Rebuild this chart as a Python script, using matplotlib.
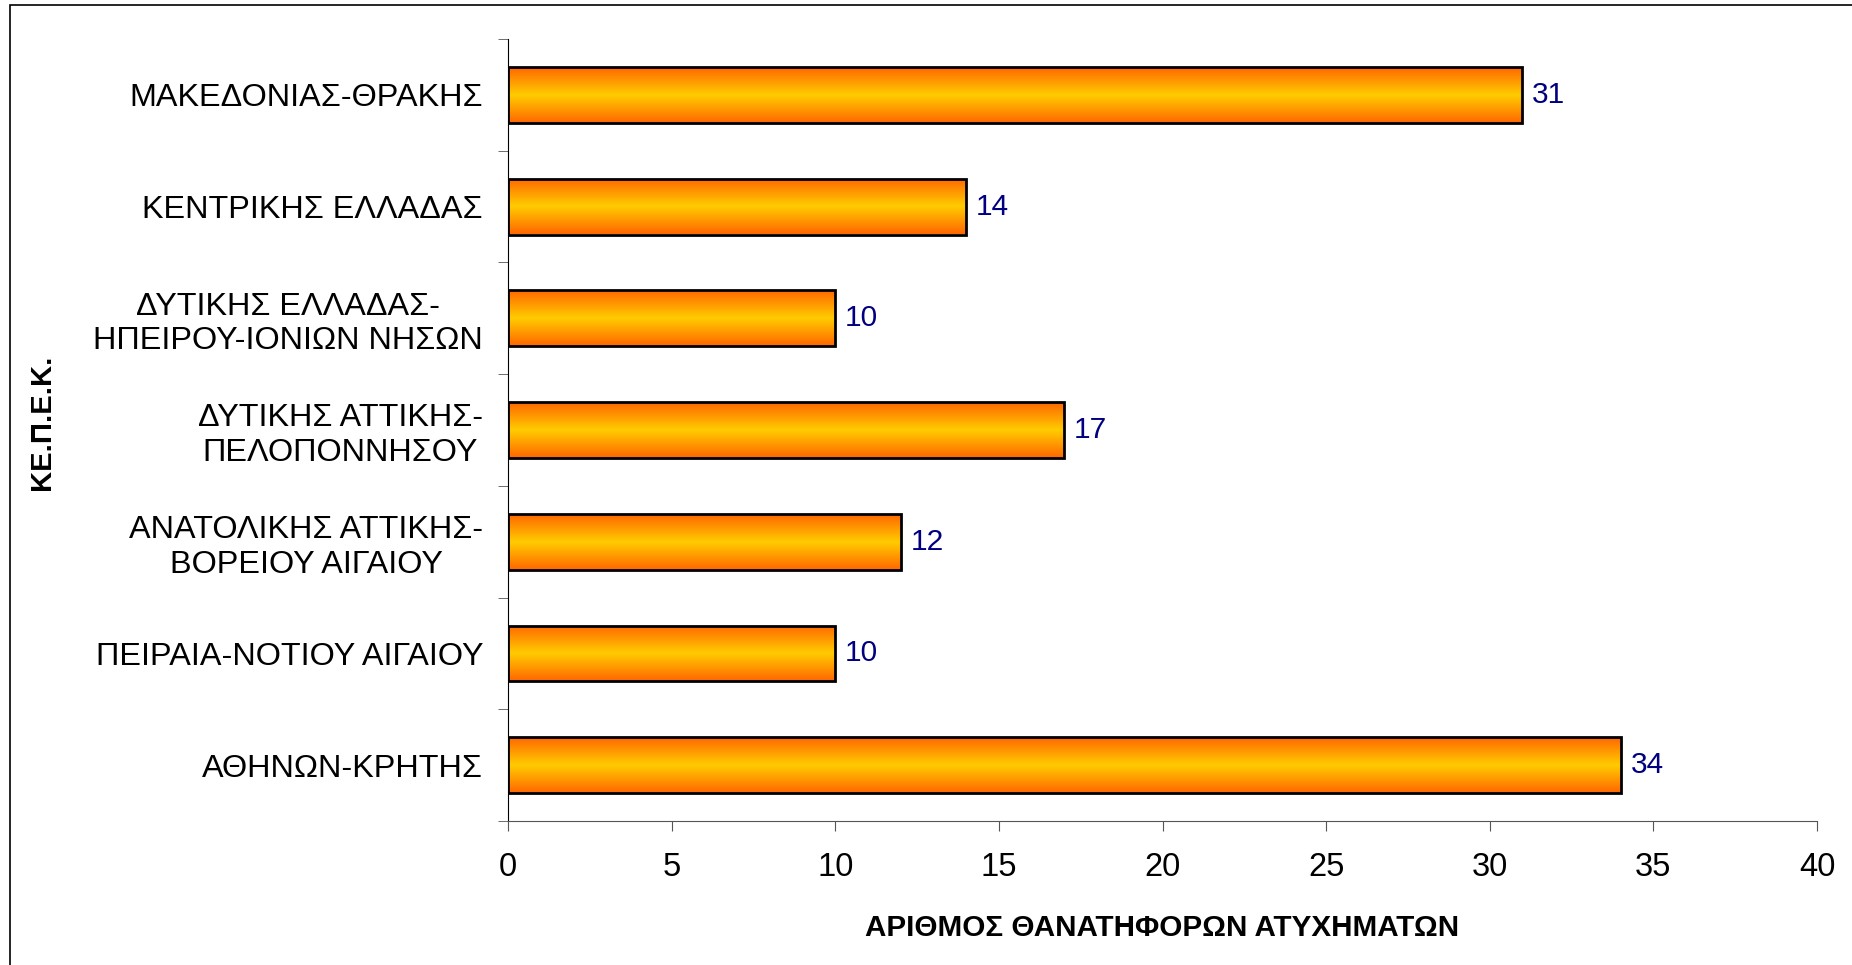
import numpy as np
import matplotlib.pyplot as plt
from matplotlib.colors import LinearSegmentedColormap
from matplotlib.patches import Rectangle

plt.rcParams['font.family'] = ['Liberation Sans', 'DejaVu Sans']

# data (bottom to top)
regions = ['ΑΘΗΝΩΝ-ΚΡΗΤΗΣ',
           'ΠΕΙΡΑΙΑ-ΝΟΤΙΟΥ ΑΙΓΑΙΟΥ',
           'ΑΝΑΤΟΛΙΚΗΣ ΑΤΤΙΚΗΣ-\nΒΟΡΕΙΟΥ ΑΙΓΑΙΟΥ',
           'ΔΥΤΙΚΗΣ ΑΤΤΙΚΗΣ-\nΠΕΛΟΠΟΝΝΗΣΟΥ',
           'ΔΥΤΙΚΗΣ ΕΛΛΑΔΑΣ-\nΗΠΕΙΡΟΥ-ΙΟΝΙΩΝ ΝΗΣΩΝ',
           'ΚΕΝΤΡΙΚΗΣ ΕΛΛΑΔΑΣ',
           'ΜΑΚΕΔΟΝΙΑΣ-ΘΡΑΚΗΣ']
accidents = [34, 10, 12, 17, 10, 14, 31]
xticks = [0, 5, 10, 15, 20, 25, 30, 35, 40]

W, H = 1852, 965
fig = plt.figure(figsize=(W / 100, H / 100), dpi=100)
ax = fig.add_axes([508 / W, 1 - 821 / H, (1817 - 508) / W, (821 - 39) / H])

# outer frame, cut off on right and bottom like the original
fig.patches.append(Rectangle((10 / W, -0.05), 1.1, 1 - 5 / H + 0.05,
                             transform=fig.transFigure, fill=False,
                             edgecolor='black', linewidth=1.2))

y = np.arange(len(regions))
bars = ax.barh(y, accidents, height=0.5, color='none', edgecolor='black',
               linewidth=2, zorder=3)

cmap = LinearSegmentedColormap.from_list('og', ['#FF6600', '#FFCC00', '#FF6600'])
grad = np.linspace(0, 1, 256).reshape(-1, 1)
for b in bars:
    x0, y0 = b.get_x(), b.get_y()
    im = ax.imshow(grad, cmap=cmap, aspect='auto', interpolation='bicubic',
                   extent=[x0, x0 + b.get_width(), y0, y0 + b.get_height()],
                   zorder=2)
    im.set_clip_path(b)

for yi, v in zip(y, accidents):
    ax.text(v + 0.3, yi, str(v), va='center', ha='left', fontsize=21.5,
            color='#000080')

ax.set_xlim(0, 40)
ax.set_ylim(-0.5, len(regions) - 0.5)
ax.set_xticks(xticks)
ax.set_yticks(y)
ax.set_yticklabels(regions, multialignment='center')
ax.set_yticks(np.arange(-0.5, len(regions), 1), minor=True)

for s in ['top', 'right']:
    ax.spines[s].set_visible(False)
ax.spines['left'].set_color('black')
ax.spines['bottom'].set_color('#555555')
ax.tick_params(axis='x', direction='out', length=7, color='#555555',
               labelsize=23.5, pad=15)
ax.tick_params(axis='y', which='major', length=0, labelsize=23.3, pad=18)
ax.tick_params(axis='y', which='minor', direction='out', length=7,
               color='#555555')

ax.set_xlabel('ΑΡΙΘΜΟΣ ΘΑΝΑΤΗΦΟΡΩΝ ΑΤΥΧΗΜΑΤΩΝ', fontsize=21.3,
              fontweight='bold', labelpad=23)
ax.set_ylabel('ΚΕ.Π.Ε.Κ.', fontsize=21, fontweight='bold')
ax.yaxis.set_label_coords((56 - 508) / (1817 - 508), 0.51)

fig.savefig('out.png', dpi=100)
